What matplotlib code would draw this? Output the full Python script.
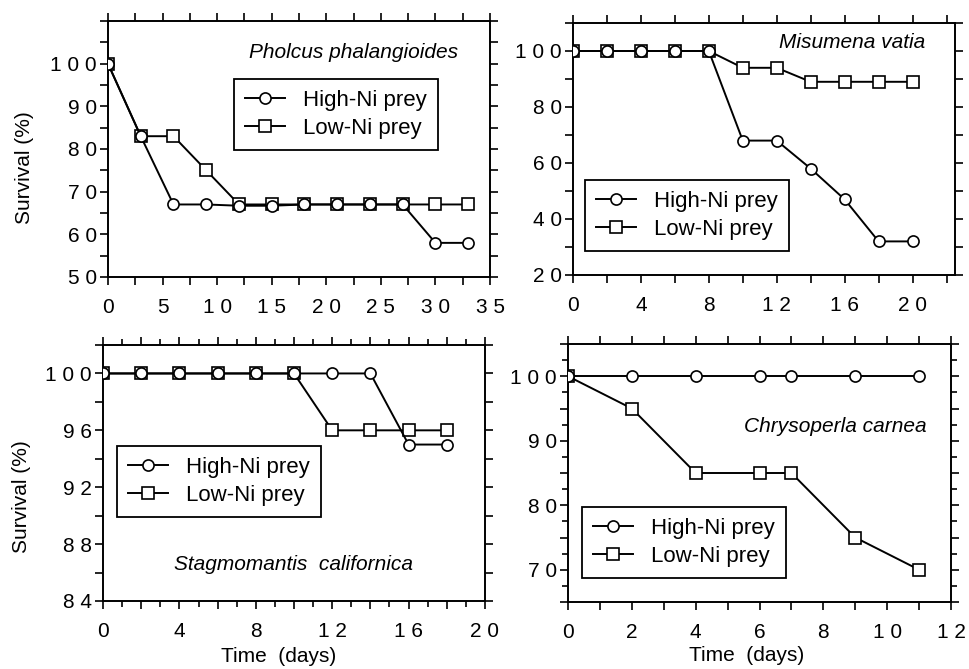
import matplotlib
matplotlib.use("Agg")
import matplotlib.pyplot as plt
from matplotlib.ticker import MultipleLocator, FuncFormatter

plt.rcParams['font.family'] = ['Liberation Sans', 'DejaVu Sans']

# Pholcus phalangioides
pholcus_days = [0, 3, 6, 9, 12, 15, 18, 21, 24, 27, 30, 33]
pholcus_high = [100, 83, 67, 67, 66.7, 66.7, 67, 67, 67, 67, 58, 58]
pholcus_low = [100, 83, 83, 75, 67, 67, 67, 67, 67, 67, 67, 67]

# Misumena vatia
misumena_days = [0, 2, 4, 6, 8, 10, 12, 14, 16, 18, 20]
misumena_high = [100, 100, 100, 100, 100, 68, 68, 58, 47, 32, 32]
misumena_low = [100, 100, 100, 100, 100, 94, 94, 89, 89, 89, 89]

# Stagmomantis californica
stagmo_days = [0, 2, 4, 6, 8, 10, 12, 14, 16, 18]
stagmo_high = [100, 100, 100, 100, 100, 100, 100, 100, 95, 95]
stagmo_low = [100, 100, 100, 100, 100, 100, 96, 96, 96, 96]

# Chrysoperla carnea
chryso_days = [0, 2, 4, 6, 7, 9, 11]
chryso_high = [100, 100, 100, 100, 100, 100, 100]
chryso_low = [100, 95, 85, 85, 85, 75, 70]

W, H = 969, 669
fig = plt.figure(figsize=(W / 100, H / 100), dpi=100)
FS = 15


def px_axes(left, top, right, bottom):
    return fig.add_axes([left / W, 1 - bottom / H, (right - left) / W, (bottom - top) / H])


def label_every(step, vmax):
    def fmt(v, pos):
        if v > vmax + 1e-6:
            return ""
        if abs(v / step - round(v / step)) < 1e-6:
            return " ".join(f"{v:g}")
        return ""
    return FuncFormatter(fmt)


def panel(ax, days, high, low, xlim, ylim, xmaj, xmin, xlab, ymaj, ymin, ylab, ymax_lab,
          name, name_xy, name_ha, leg_xy):
    ax.plot(days, low, '-s', color='black', lw=1.4, ms=8, mfc='white',
            mec='black', mew=1.2, label='Low-Ni prey', zorder=3)
    ax.plot(days, high, '-o', color='black', lw=1.4, ms=8, mfc='white',
            mec='black', mew=1.2, label='High-Ni prey', zorder=4)
    ax.set_xlim(*xlim)
    ax.set_ylim(*ylim)
    ax.xaxis.set_major_locator(MultipleLocator(xmaj))
    ax.xaxis.set_minor_locator(MultipleLocator(xmin))
    ax.xaxis.set_major_formatter(label_every(xlab, xlim[1]))
    ax.yaxis.set_major_locator(MultipleLocator(ymaj))
    ax.yaxis.set_minor_locator(MultipleLocator(ymin))
    ax.yaxis.set_major_formatter(label_every(ylab, ymax_lab))
    ax.tick_params(which='both', direction='out', top=True, right=True,
                   width=1.2, labelsize=FS)
    ax.tick_params(which='major', length=6)
    ax.tick_params(which='minor', length=4)
    ax.tick_params(axis='x', pad=9)
    ax.tick_params(axis='y', pad=2)
    for s in ax.spines.values():
        s.set_linewidth(1.4)
    ax.text(name_xy[0] / W, 1 - name_xy[1] / H, name, transform=fig.transFigure,
            style='italic', fontsize=FS, ha=name_ha, va='center')
    h, l = ax.get_legend_handles_labels()
    leg = ax.legend(h[::-1], l[::-1], loc='upper left',
                    bbox_to_anchor=(leg_xy[0] / W, 1 - leg_xy[1] / H),
                    bbox_transform=fig.transFigure, fontsize=16, fancybox=False,
                    edgecolor='black', framealpha=1, handlelength=1.8,
                    handletextpad=0.8, borderpad=0.5, labelspacing=0.3,
                    borderaxespad=0)
    leg.get_frame().set_linewidth(1.3)


ax1 = px_axes(108, 21, 490, 277)
panel(ax1, pholcus_days, pholcus_high, pholcus_low, (0, 35), (50, 110),
      2.5, 2.5, 5, 5, 5, 10, 100, 'Pholcus phalangioides', (458, 52), 'right', (234, 79))
ax1.set_ylabel('Survival (%)', fontsize=FS)
ax1.yaxis.set_label_coords(-0.194, 0.426)

ax2 = px_axes(573, 23, 955, 275)
panel(ax2, misumena_days, misumena_high, misumena_low, (0, 22.5), (20, 110),
      2, 2, 4, 10, 10, 20, 100, 'Misumena vatia', (925, 43), 'right', (585, 180))

ax3 = px_axes(103, 345, 485, 601)
panel(ax3, stagmo_days, stagmo_high, stagmo_low, (0, 20), (84, 102),
      2, 1, 4, 2, 2, 4, 100, 'Stagmomantis  californica', (293, 565), 'center', (117, 446))
ax3.set_ylabel('Survival (%)', fontsize=FS)
ax3.yaxis.set_label_coords(-0.188, 0.406)
ax3.set_xlabel('Time  (days)', fontsize=FS)
ax3.xaxis.set_label_coords(0.46, -0.18)

ax4 = px_axes(568, 344, 951, 602)
panel(ax4, chryso_days, chryso_high, chryso_low, (0, 12), (65, 105),
      1, 1, 2, 5, 2.5, 10, 100, 'Chrysoperla carnea', (927, 426), 'right', (582, 507))
ax4.set_xlabel('Time  (days)', fontsize=FS)
ax4.xaxis.set_label_coords(0.467, -0.17)

fig.savefig('out.png', dpi=100)
